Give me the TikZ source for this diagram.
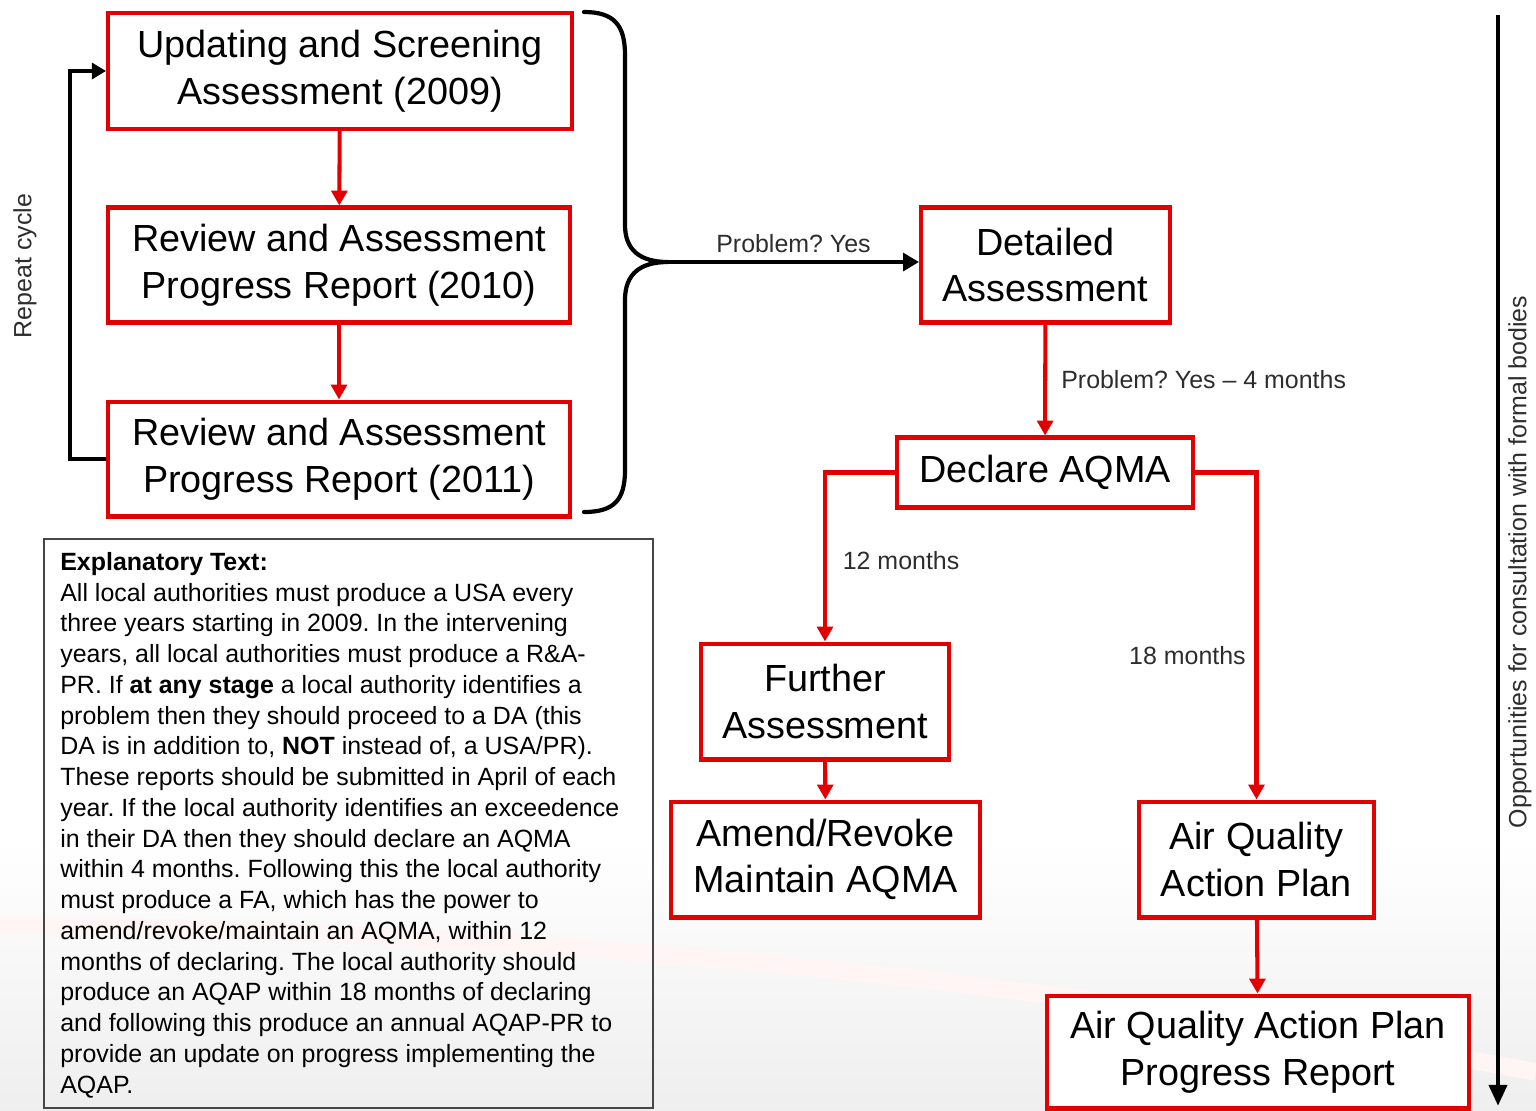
\documentclass[tikz,border=0pt]{standalone}
\usepackage{fontspec}
\setmainfont{Liberation Sans}
\usetikzlibrary{arrows.meta}
\definecolor{aqred}{RGB}{226,0,0}
\definecolor{framegray}{RGB}{70,70,70}
\definecolor{labelgray}{RGB}{45,45,45}
\frenchspacing
\tikzset{
  stage/.style={draw=aqred, line width=2.3pt, fill=white, align=center,
    inner sep=0pt, font=\fontsize{21.5}{26.6}\selectfont},
  redflow/.style={draw=aqred, line width=2.3pt, -{Triangle[length=8.5pt,width=9pt]}},
  blackflow/.style={draw=black, line width=2.4pt, -{Triangle[length=8pt,width=9pt]}},
  note/.style={font=\fontsize{14.2}{17.5}\selectfont, inner sep=0pt, text=labelgray},
}
\begin{document}
\begin{tikzpicture}[x=0.02cm, y=-0.02cm]
    \useasboundingbox (0,0) rectangle (1536,1110);
    % faint backdrop at the foot of the slide
    \fill[top color=white, bottom color=gray!13] (0,840) rectangle (1536,1110);
    \draw[red!4, line width=10pt]
      (0,925) .. controls (600,930) and (1100,990) .. (1536,1072);

    % the yearly review cycle
    \node[stage, minimum width=9.28cm, minimum height=2.32cm] (usa) at (340,71)
      {Updating and Screening\\Assessment (2009)};
    \node[stage, minimum width=9.24cm, minimum height=2.3cm] (rapr10) at (339,265)
      {Review and Assessment\\Progress Report (2010)};
    \node[stage, minimum width=9.24cm, minimum height=2.3cm] (rapr11) at (339,459)
      {Review and Assessment\\Progress Report (2011)};
    \draw[redflow] (usa) -- (rapr10);
    \draw[redflow] (rapr10) -- (rapr11);
    \draw[blackflow] (rapr11.west) -- ++(-36,0) |- (usa.west);
    \node[note, rotate=90] (repeat) at (25,266) {Repeat cycle};

    % brace gathering the three reports
    \draw[line width=2.4pt, line cap=round]
      (584,12) .. controls (614,12) and (625,25) .. (625,55) -- (625,225)
      .. controls (625,250) and (640,262) .. (668,262)
      .. controls (640,262) and (625,274) .. (625,300) -- (625,470)
      .. controls (625,500) and (614,512) .. (584,512);
    \coordinate (bracetip) at (668,262);

    % detailed assessment and the AQMA branch
    \node[stage, minimum width=4.98cm, minimum height=2.3cm] (da) at (1045.5,265)
      {Detailed\\Assessment};
    \node[stage, minimum width=5.92cm, minimum height=1.4cm] (declare) at (1045,472.5)
      {Declare AQMA};
    \node[stage, minimum width=4.96cm, minimum height=2.32cm] (further) at (825,701.5)
      {Further\\Assessment};
    \node[stage, minimum width=6.18cm, minimum height=2.32cm] (amend) at (825.5,859.5)
      {Amend/Revoke\\Maintain AQMA};
    \node[stage, minimum width=4.7cm, minimum height=2.32cm] (aqap) at (1256.5,859.5)
      {Air Quality\\Action Plan};
    \node[stage, minimum width=8.44cm, minimum height=2.26cm] (aqappr) at (1258,1052)
      {Air Quality Action Plan\\Progress Report};

    \draw[line width=2.4pt, -{Triangle[length=9pt,width=10pt]}] (bracetip) -- (bracetip -| da.west)
      node[note, midway, above=4pt] (yeslabel) {Problem? Yes};
    \draw[redflow] (da) -- (declare)
      node[note, midway, right=8pt] (fourlabel) {Problem? Yes -- 4 months};
    \draw[redflow] (declare.west) -| (further.north)
      node[note, pos=0.76, right=9pt] (twelvelabel) {12 months};
    \draw[redflow] (declare.east) -| (aqap.north)
      node[note, pos=0.78, left=5pt] (eighteenlabel) {18 months};
    \draw[redflow] (further) -- (amend);
    \draw[redflow] (aqap) -- (aqappr);

    % consultation timeline on the right
    \coordinate (tltop) at (1498,15);
    \coordinate (tlend) at (1498,1106);
    \draw[line width=2.8pt, -{Triangle[length=12pt,width=10pt]}] (tltop) -- (tlend);
    \node[note, rotate=90] (consult) at (1520,562)
      {Opportunities for consultation with formal bodies};

    % explanatory notes
    \node[draw=framegray, line width=0.9pt, minimum width=12.18cm, minimum height=11.38cm,
      inner sep=0pt] (explain) at (348.5,823.5) {};
    \node[note, text=black, anchor=north west, align=left] (explaintext) at (60,552)
      {\textbf{Explanatory Text:}\\
       All local authorities must produce a USA every\\
       three years starting in 2009. In the intervening\\
       years, all local authorities must produce a R\&A-\\
       PR. If \textbf{at any stage} a local authority identifies a\\
       problem then they should proceed to a DA (this\\
       DA is in addition to, \textbf{NOT} instead of, a USA/PR).\\
       These reports should be submitted in April of each\\
       year. If the local authority identifies an exceedence\\
       in their DA then they should declare an AQMA\\
       within 4 months. Following this the local authority\\
       must produce a FA, which has the power to\\
       amend/revoke/maintain an AQMA, within 12\\
       months of declaring. The local authority should\\
       produce an AQAP within 18 months of declaring\\
       and following this produce an annual AQAP-PR to\\
       provide an update on progress implementing the\\
       AQAP.};
\end{tikzpicture}
\end{document}
